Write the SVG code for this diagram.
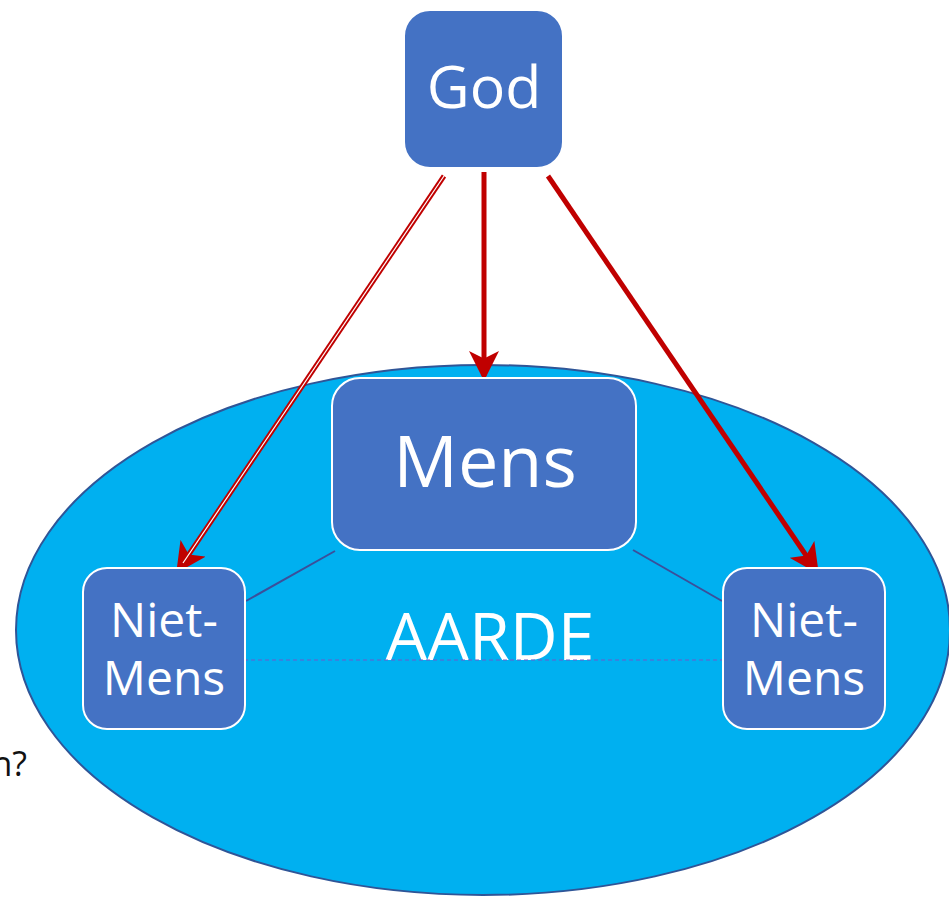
<svg xmlns="http://www.w3.org/2000/svg" width="949" height="899" viewBox="0 0 949 899">
<style>
.box{fill:#4472C4;stroke:#ffffff;stroke-width:2}
.t{font-family:"Open Sans","Noto Sans","Liberation Sans",sans-serif;fill:#ffffff;text-anchor:middle}
.red{stroke:#C00000;fill:none}
.link{stroke:#3B4F9A;stroke-width:2;fill:none}
</style>
<defs>
<marker id="ah" markerWidth="6" markerHeight="6" refX="5" refY="3" orient="auto" markerUnits="strokeWidth">
<path d="M0,0 L6,3 L0,6 L1.5,3 Z" fill="#C00000"/>
</marker>
</defs>
<rect width="949" height="899" fill="#ffffff"/>
<text x="27" y="776" font-family="'Open Sans','Noto Sans',sans-serif" font-size="34" fill="#111111" text-anchor="end">n?</text>
<g id="aarde">
<ellipse cx="483" cy="630" rx="467" ry="265" fill="#00B0F0" stroke="#2F5597" stroke-width="2"/>
<text class="t" x="490" y="660" font-size="66">AARDE</text>
</g>
<g id="connectors">
<line class="link" x1="335" y1="551" x2="246" y2="601"/>
<line class="link" x1="633" y1="550" x2="722" y2="601"/>
<line x1="244" y1="660" x2="724" y2="660" stroke="#6A5ACD" stroke-width="1" stroke-dasharray="4,3"/>
<line class="red" x1="484" y1="172" x2="484" y2="376" stroke-width="5" marker-end="url(#ah)"/>
<line class="red" x1="548" y1="176" x2="816" y2="570" stroke-width="5" marker-end="url(#ah)"/>
<line class="red" x1="444" y1="176" x2="179" y2="569" stroke-width="5" marker-end="url(#ah)"/>
<line x1="444" y1="176" x2="183" y2="563" stroke="#ffffff" stroke-width="1.2"/>
</g>
<g id="god">
<rect class="box" x="404" y="10" width="159" height="158" rx="26"/>
<text class="t" x="484" y="108" font-size="59">God</text>
</g>
<g id="mens">
<rect class="box" x="332" y="378" width="304" height="172" rx="28"/>
<text class="t" x="485" y="487" font-size="72">Mens</text>
</g>
<g id="nietmens-left">
<rect class="box" x="83" y="568" width="162" height="161" rx="24"/>
<text class="t" x="164" y="637" font-size="48">Niet-</text>
<text class="t" x="164" y="695" font-size="48">Mens</text>
</g>
<g id="nietmens-right">
<rect class="box" x="723" y="568" width="162" height="161" rx="24"/>
<text class="t" x="804" y="637" font-size="48">Niet-</text>
<text class="t" x="804" y="695" font-size="48">Mens</text>
</g>
</svg>
